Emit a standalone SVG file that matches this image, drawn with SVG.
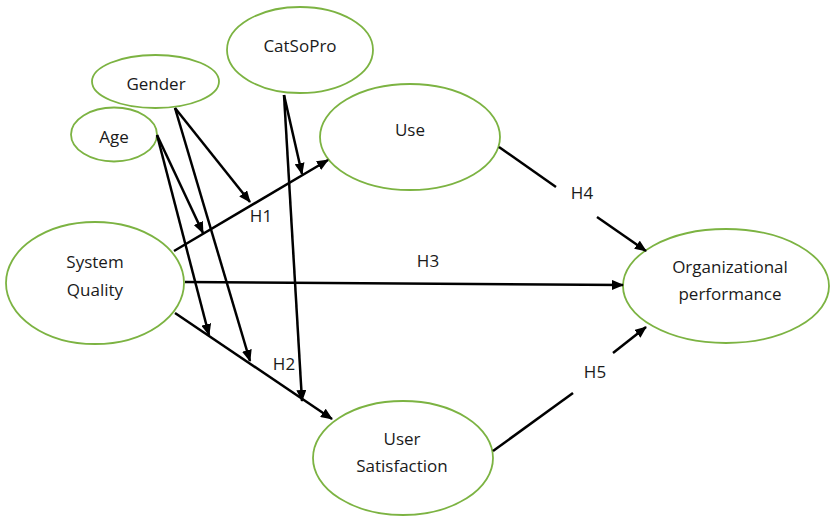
<svg xmlns="http://www.w3.org/2000/svg" width="830" height="517" viewBox="0 0 830 517">
<defs>
<marker id="ah" markerWidth="12" markerHeight="10" refX="11" refY="5" orient="auto" markerUnits="userSpaceOnUse">
<path d="M0,0 L12,5 L0,10 Z" fill="#000"/>
</marker>
<style>
.n{fill:#fff;stroke:#7cb342;stroke-width:1.8}
.t{font-family:"Open Sans","Liberation Sans",sans-serif;font-size:17px;fill:#1a1a1a;text-anchor:middle}
.c line,.c path{stroke:#000;stroke-width:2.5;fill:none}
.a{marker-end:url(#ah)}
</style>
</defs>
<rect width="830" height="517" fill="#fff"/>
<g id="catsopro"><ellipse class="n" cx="300" cy="50" rx="73" ry="43"/><text class="t" x="300" y="52">CatSoPro</text></g>
<g id="gender"><ellipse class="n" cx="155.5" cy="81.5" rx="63.5" ry="26.5"/><text class="t" x="156" y="90">Gender</text></g>
<g id="age"><ellipse class="n" cx="114" cy="134.5" rx="43" ry="27"/><text class="t" x="114" y="143">Age</text></g>
<g id="use"><ellipse class="n" cx="410" cy="137" rx="90" ry="53"/><text class="t" x="410" y="136">Use</text></g>
<g id="sq"><ellipse class="n" cx="95" cy="283" rx="89" ry="61"/><text class="t" x="95" y="268">System</text><text class="t" x="95" y="296">Quality</text></g>
<g id="org"><ellipse class="n" cx="726" cy="286" rx="103" ry="57"/><text class="t" x="730" y="273">Organizational</text><text class="t" x="730" y="300">performance</text></g>
<g id="us"><ellipse class="n" cx="403" cy="458" rx="90" ry="57"/><text class="t" x="402" y="445">User</text><text class="t" x="402" y="472">Satisfaction</text></g>
<g id="connectors" class="c">
<line class="a" x1="174" y1="251" x2="328" y2="160"/>
<line class="a" x1="185" y1="282" x2="623" y2="285"/>
<line class="a" x1="175" y1="313" x2="332" y2="419"/>
<line x1="499" y1="147" x2="556" y2="187"/>
<line class="a" x1="597" y1="217" x2="646" y2="251"/>
<line x1="493" y1="451" x2="573" y2="393"/>
<line class="a" x1="613" y1="353" x2="646" y2="327"/>
<line class="a" x1="175" y1="108" x2="250" y2="202"/>
<line class="a" x1="175" y1="108" x2="250" y2="361"/>
<line class="a" x1="157" y1="135" x2="203" y2="233"/>
<line class="a" x1="157" y1="135" x2="209" y2="335"/>
<line class="a" x1="284" y1="95" x2="302" y2="174"/>
<line class="a" x1="284" y1="95" x2="302" y2="401"/>
</g>
<g id="labels">
<text class="t" x="261" y="222">H1</text>
<text class="t" x="284" y="370">H2</text>
<text class="t" x="428" y="267">H3</text>
<text class="t" x="582" y="199">H4</text>
<text class="t" x="595" y="378">H5</text>
</g>
</svg>
